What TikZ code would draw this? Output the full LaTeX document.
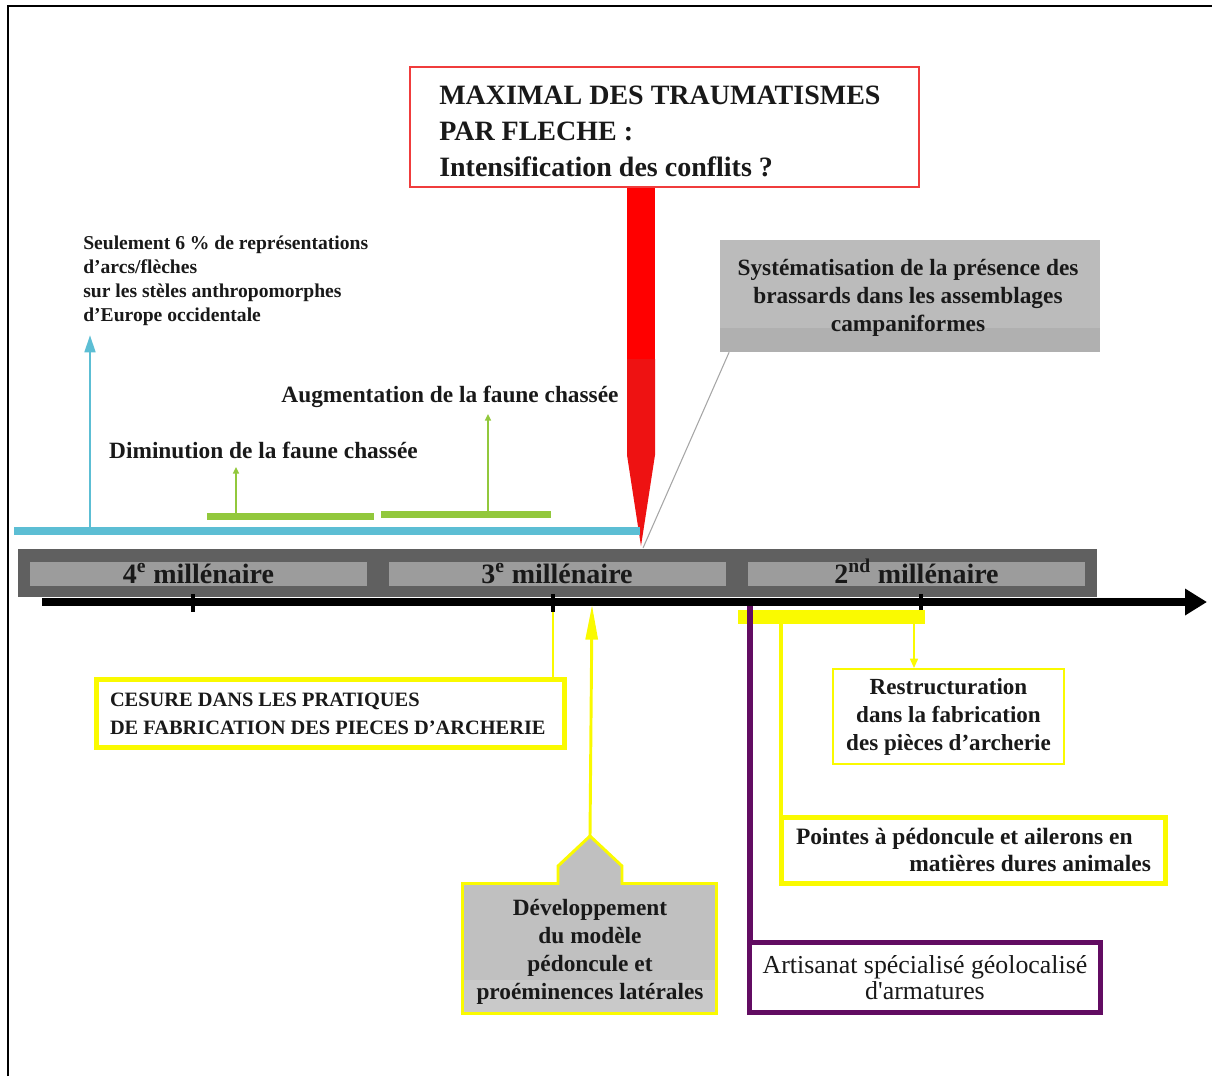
\documentclass[tikz,border=0pt]{standalone}
\usepackage{fontspec}
\setmainfont{Liberation Serif}
\usetikzlibrary{arrows.meta}
\definecolor{ink}{RGB}{25,25,25}
\definecolor{redline}{RGB}{240,60,60}
\definecolor{redA}{RGB}{255,0,0}
\definecolor{redB}{RGB}{238,18,18}
\definecolor{bluec}{RGB}{92,190,212}
\definecolor{greenc}{RGB}{146,200,60}
\definecolor{yel}{RGB}{250,250,0}
\definecolor{purp}{RGB}{98,12,98}
\definecolor{band}{RGB}{96,96,96}
\definecolor{millgrey}{RGB}{156,156,156}
\definecolor{systA}{RGB}{187,187,187}
\definecolor{systB}{RGB}{176,176,176}
\definecolor{devA}{RGB}{192,192,192}
\definecolor{devB}{RGB}{201,201,201}
\newcommand\myfs[2]{\fontsize{#1}{#2}\selectfont}
\tikzset{
  txt/.style={inner sep=0pt, text=ink, font=\bfseries\myfs{17.5}{21}},
  ybox/.style={draw=yel, fill=white, inner sep=0pt, text=ink},
  millbox/.style={fill=millgrey, inner sep=0pt, minimum width=337*.75pt, minimum height=24*.75pt,
     text height=13.5pt, text depth=0pt, text=ink, font=\bfseries\myfs{21}{21}},
  tick/.style={line width=2.4pt, black},
}
\begin{document}
\begin{tikzpicture}[x=0.75pt,y=-0.75pt]
\useasboundingbox (0,0) rectangle (1212,1076);
% frame
\draw[line width=1.6pt, black] (8,1076) -- (8,6) -- (1212,6);

% red box and spike
\node[draw=redline, line width=1.5pt, fill=white, minimum width=509*.75pt, minimum height=120*.75pt,
      inner sep=0pt] (maxbox) at (664.5,127) {};
\node[anchor=west, align=flush left, inner sep=0pt, text=ink, font=\bfseries\myfs{21}{27}]
      (maxtxt) at (439,131) {MAXIMAL DES TRAUMATISMES\\PAR FLECHE :\\Intensification des conflits ?};
\coordinate (redtip) at (641,546);
\fill[redA] (627,188) -- (655,188) -- (655,360) -- (627,360) -- cycle;
\fill[redB] (627,359) -- (655,359) -- (655,455) -- (redtip) -- (627,455) -- cycle;

% systematisation box
\node[fill=systA, minimum width=380*.75pt, minimum height=112*.75pt, inner sep=0pt] (syst) at (910,296) {};
\fill[systB] (syst.south west) rectangle ([yshift=18pt]syst.south east);
\node[txt, align=flush center] (systtxt) at (908,298) {Systématisation de la présence des\\brassards dans les assemblages\\campaniformes};
\coordinate (greytip) at (643,548);
\draw[gray!70, line width=0.8pt] ([xshift=7pt]syst.south west) -- (greytip);

% blue
\coordinate (blueL) at (14,531);
\coordinate (blueR) at (640,531);
\draw[bluec, line width=6pt] (blueL) -- (blueR);
\coordinate (bluebase) at (90,527);
\coordinate (bluetop) at (90,335);
\draw[bluec, line width=2pt, -{Triangle[length=13pt,width=8pt]}] (bluebase) -- (bluetop);
\node[txt, anchor=west, align=flush left, font=\bfseries\myfs{14.7}{18}] (seul) at (83,281)
   {Seulement 6~\% de représentations\\d’arcs/flèches\\sur les stèles anthropomorphes\\d’Europe occidentale};

% green
\coordinate (g1L) at (207,516.5); \coordinate (g1R) at (374,516.5);
\coordinate (g2L) at (381,514.5); \coordinate (g2R) at (551,514.5);
\draw[greenc, line width=5.2pt] (g1L) -- (g1R);
\draw[greenc, line width=5.2pt] (g2L) -- (g2R);
\coordinate (g1a) at (236,513); \coordinate (g1b) at (236,467);
\coordinate (g2a) at (488,511); \coordinate (g2b) at (488,414);
\draw[greenc, line width=1.1pt, -{Triangle[length=5pt,width=4.5pt]}] (g1a) -- (g1b);
\draw[greenc, line width=1.1pt, -{Triangle[length=5pt,width=4.5pt]}] (g2a) -- (g2b);
\node[txt] (dim) at (263.5,450) {Diminution de la faune chassée};
\node[txt] (aug) at (450,397) {Augmentation de la faune chassée};

% timeline band
\node[fill=band, minimum width=1079*.75pt, minimum height=48*.75pt, inner sep=0pt] (band) at (557.5,573) {};
\node[millbox] (m4) at (198.5,574) {4\textsuperscript{e} millénaire};
\node[millbox] (m3) at (557,574) {3\textsuperscript{e} millénaire};
\node[millbox] (m2) at (916.5,574) {2\textsuperscript{nd} millénaire};

% black axis
\coordinate (axL) at (42,602);
\coordinate (axR) at (1207,602);
\draw[black, line width=6pt, -{Triangle[length=16.5pt,width=19pt]}] (axL) -- (axR);
\coordinate (t1) at (193,612); \coordinate (t2) at (553,612); \coordinate (t3) at (921,612);
\draw[tick] (193,594) -- (t1);
\draw[tick] (553,594) -- (t2);
\draw[tick] (921,594) -- (t3);

% lower boxes
\node[ybox, line width=3.75pt, minimum width=468*.75pt, minimum height=68*.75pt, text width=441*.75pt,
      align=flush left, font=\bfseries\myfs{15.3}{21}] (cesure) at (330.5,713.5)
      {CESURE DANS LES PRATIQUES\\DE FABRICATION DES PIECES D’ARCHERIE};
\node[ybox, line width=1.5pt, minimum width=231*.75pt, minimum height=95*.75pt, align=flush center,
      font=\bfseries\myfs{17.3}{21}] (restr) at (948.5,716.5)
      {Restructuration\\dans la fabrication\\des pièces d’archerie};
\node[ybox, line width=3.75pt, minimum width=384*.75pt, minimum height=66*.75pt, text width=355*.75pt,
      align=flush left, font=\bfseries\myfs{17.6}{20.5}] (pointes) at (973.5,850)
      {Pointes à pédoncule et ailerons en\\\hspace*{\fill}matières dures animales};
\node[draw=purp, fill=white, line width=3.75pt, minimum width=351*.75pt, minimum height=70*.75pt,
      inner sep=0pt, align=flush center, text=ink, font=\myfs{19.4}{19.5}] (art) at (925,977.5)
      {Artisanat spécialisé géolocalisé\\d\textquotesingle armatures};

% developpement (house shape)
\coordinate (apex) at (590,836);
\filldraw[fill=devA, draw=yel, line width=2.2pt] (462.5,883.5) -- (558,883.5) -- (558,866) -- (apex)
   -- (622,866) -- (622,883.5) -- (716.5,883.5) -- (716.5,1013.5) -- (462.5,1013.5) -- cycle;
\fill[devB] (464,980) rectangle (715,1012);
\node[txt, align=flush center, font=\bfseries\myfs{17.5}{21}] (dev) at (590,952)
   {Développement\\du modèle\\pédoncule et\\proéminences latérales};

% yellow connectors
\draw[yel, line width=2.2pt] (t2) -- (t2 |- cesure.north);
\coordinate (ytip) at (592,605);
\draw[yel, line width=2.2pt, -{Triangle[length=26pt,width=9pt]}] (apex) -- (ytip);
\fill[yel] (738,610) rectangle (925,624);
\coordinate (ypL) at (781,624);
\draw[yel, line width=3.2pt] (ypL) -- (ypL |- pointes.north);
\coordinate (yrT) at (914,624);
\draw[yel, line width=1.1pt, -{Triangle[length=7pt,width=6pt]}] (yrT) -- (yrT |- restr.north);
\coordinate (pTop) at (750,606);
\draw[purp, line width=4.5pt] (pTop) -- (pTop |- art.north);
\end{tikzpicture}
\end{document}
